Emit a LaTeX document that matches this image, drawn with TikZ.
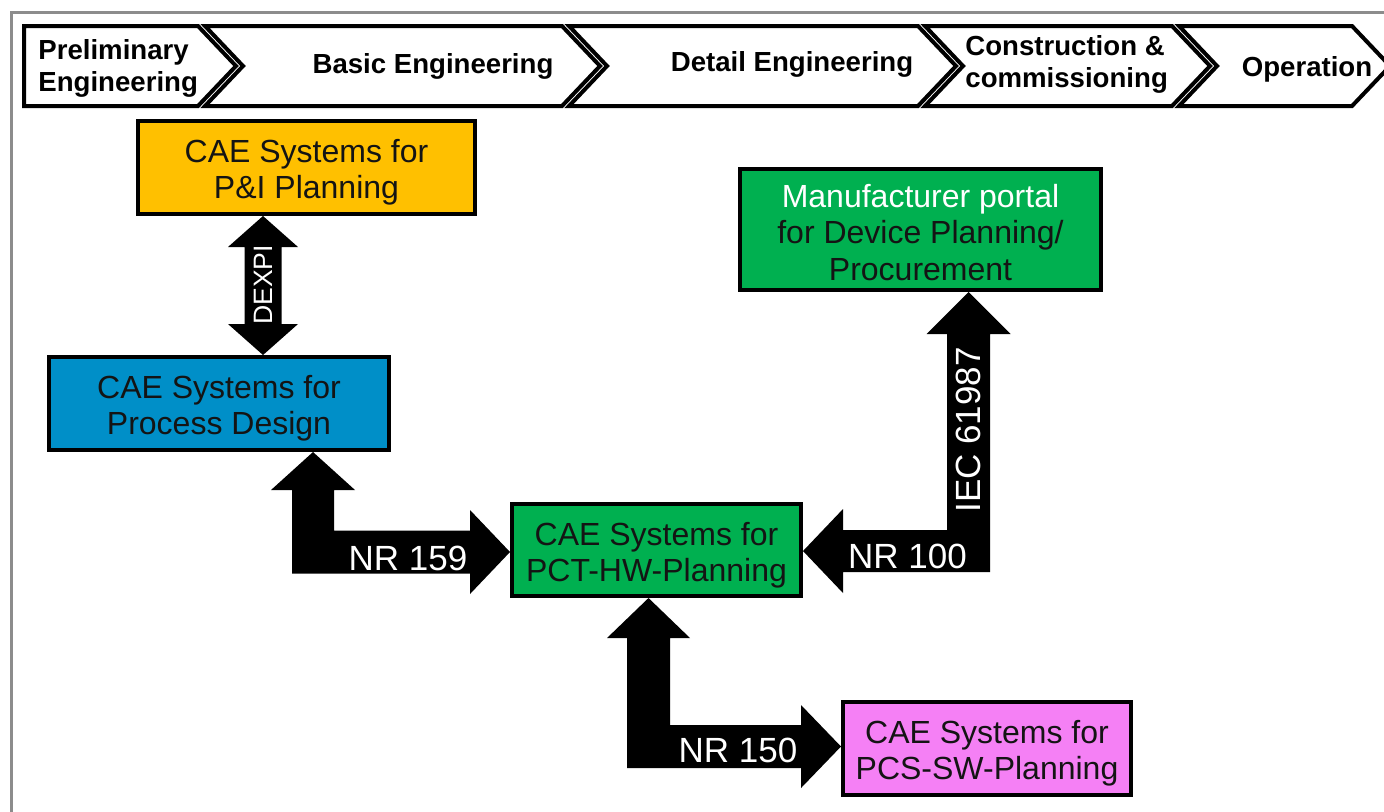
\documentclass[tikz,border=0pt]{standalone}
\usepackage{fontspec}
\setmainfont{Liberation Sans}
\usetikzlibrary{calc}
\definecolor{cOrange}{RGB}{255,192,0}
\definecolor{cBlue}{RGB}{0,143,200}
\definecolor{cGreen}{RGB}{0,176,80}
\definecolor{cPink}{RGB}{245,128,245}
\definecolor{cFrame}{RGB}{140,140,140}
\definecolor{cText}{RGB}{20,20,20}
\begin{document}
\begin{tikzpicture}[x=0.5pt,y=-0.5pt,
  box/.style={draw=black, line width=2.2pt, inner sep=0pt},
  boxtext/.style={inner sep=0pt, align=center, font=\fontsize{16}{18.2}\selectfont, text=cText},
  phase/.style={draw=black, line width=2pt, fill=white, line join=miter},
  phasetext/.style={font=\bfseries\fontsize{13.8}{16}\selectfont, inner sep=0pt, text=black},
  fat/.style={fill=black},
  lbl/.style={text=white, font=\fontsize{17.5}{20}\selectfont, inner sep=0pt}
]
\useasboundingbox (0,0) rectangle (1384,811);
\clip (0,0) rectangle (1384,811);
\fill[white] (0,0) rectangle (1384,811);
% frame
\draw[cFrame, line width=1.5pt] (11,12) rectangle (1440,860);
% phase chevrons
\draw[phase] (24,26) -- (198,26) -- (236,66) -- (198,106) -- (24,106) -- cycle;
\draw[phase] (205,26) -- (562,26) -- (600,66) -- (562,106) -- (205,106) -- (243,66) -- cycle;
\draw[phase] (569,26) -- (918,26) -- (956,66) -- (918,106) -- (569,106) -- (607,66) -- cycle;
\draw[phase] (925,26) -- (1172,26) -- (1210,66) -- (1172,106) -- (925,106) -- (963,66) -- cycle;
\draw[phase] (1179,26) -- (1352,26) -- (1390,66) -- (1352,106) -- (1179,106) -- (1217,66) -- cycle;
\node[phasetext, anchor=west, align=left] (t1) at (38,68) {Preliminary\\Engineering};
\node[phasetext] (t2) at (433,66) {Basic Engineering};
\node[phasetext] (t3) at (792,64) {Detail Engineering};
\node[phasetext, anchor=west, align=left] (t4) at (965,64) {Construction \&\\commissioning};
\node[phasetext] (t5) at (1307,69) {Operation};
% boxes
\node[box, fill=cOrange, minimum width=168.3pt, minimum height=46.3pt] (pid) at (306.5,167.5) {};
\node[box, fill=cBlue, minimum width=169.8pt, minimum height=46.3pt] (proc) at (219,403.5) {};
\node[box, fill=cGreen, minimum width=180.3pt, minimum height=60.3pt] (mfr) at (920.5,229.5) {};
\node[box, fill=cGreen, minimum width=144.3pt, minimum height=45.8pt] (hw) at (656.5,550) {};
\node[box, fill=cPink, minimum width=143.8pt, minimum height=46.3pt] (sw) at (987,748.5) {};
\node[boxtext] (pidtext) at ($(pid.center)+(0,5)$) {CAE Systems for\\P\&I Planning};
\node[boxtext] (proctext) at ($(proc.center)+(0,5)$) {CAE Systems for\\Process Design};
\node[boxtext] (mfrtext) at ($(mfr.center)+(0,3)$) {\textcolor{white}{Manufacturer portal}\\for Device Planning/\\Procurement};
\node[boxtext] (hwtext) at ($(hw.center)+(0,5)$) {CAE Systems for\\PCT-HW-Planning};
\node[boxtext] (swtext) at ($(sw.center)+(0,5)$) {CAE Systems for\\PCS-SW-Planning};
% DEXPI double arrow
\coordinate (dx) at (263,0);
\coordinate (dT) at (dx |- pid.south);
\coordinate (dB) at (dx |- proc.north);
\fill[fat] (dT) -- ($(dT)+(35,31)$) -- ($(dT)+(18.5,31)$) -- ($(dB)+(18.5,-31)$) -- ($(dB)+(35,-31)$) -- (dB)
  -- ($(dB)+(-35,-31)$) -- ($(dB)+(-18.5,-31)$) -- ($(dT)+(-18.5,31)$) -- ($(dT)+(-35,31)$) -- cycle;
% NR 159 bent arrow
\coordinate (ax1) at (313,0);
\coordinate (A1) at (ax1 |- proc.south);
\coordinate (B1) at ($(hw.west)+(0,2)$);
\coordinate (C1) at (A1 |- B1);
\fill[fat] ($(C1)+(-21,21.5)$) -- ($(A1)+(-21,38)$) -- ($(A1)+(-42,38)$) -- (A1) -- ($(A1)+(42,38)$)
  -- ($(A1)+(21,38)$) -- ($(C1)+(21,-21.5)$) -- ($(B1)+(-40,-21.5)$) -- ($(B1)+(-40,-42)$) -- (B1)
  -- ($(B1)+(-40,42)$) -- ($(B1)+(-40,21.5)$) -- cycle;
% NR 150 bent arrow
\coordinate (ax2) at (648.5,0);
\coordinate (A2) at (ax2 |- hw.south);
\coordinate (B2) at ($(sw.west)+(0,-2)$);
\coordinate (C2) at (A2 |- B2);
\fill[fat] ($(C2)+(-21.5,21.5)$) -- ($(A2)+(-21.5,40)$) -- ($(A2)+(-41.5,40)$) -- (A2) -- ($(A2)+(41.5,40)$)
  -- ($(A2)+(21.5,40)$) -- ($(C2)+(21.5,-21.5)$) -- ($(B2)+(-40,-21.5)$) -- ($(B2)+(-40,-41.5)$) -- (B2)
  -- ($(B2)+(-40,41.5)$) -- ($(B2)+(-40,21.5)$) -- cycle;
% NR 100 / IEC 61987 bent arrow
\coordinate (ax3) at (968.5,0);
\coordinate (A3) at (ax3 |- mfr.south);
\coordinate (B3) at ($(hw.east)+(0,1)$);
\coordinate (C3) at (A3 |- B3);
\fill[fat] ($(C3)+(21.5,21)$) -- ($(A3)+(21.5,42)$) -- ($(A3)+(42,42)$) -- (A3) -- ($(A3)+(-42,42)$)
  -- ($(A3)+(-21.5,42)$) -- ($(C3)+(-21.5,-21)$) -- ($(B3)+(40,-21)$) -- ($(B3)+(40,-42)$) -- (B3)
  -- ($(B3)+(40,42)$) -- ($(B3)+(40,21)$) -- cycle;
% labels
\node[lbl, rotate=90, font=\fontsize{13.3}{15}\selectfont] (ldexpi) at (263,285) {DEXPI};
\node[lbl] (l159) at (408,558) {NR 159};
\node[lbl] (l150) at (738,750) {NR 150};
\node[lbl] (l100) at (907.5,556) {NR 100};
\node[lbl, rotate=90] (liec) at (968.5,430) {IEC 61987};
\end{tikzpicture}
\end{document}
